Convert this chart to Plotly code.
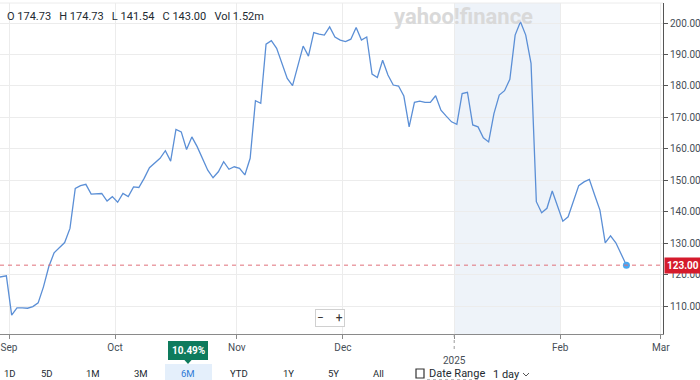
import pandas as pd
import plotly.graph_objects as go

# ---------------- data ----------------
holidays = ["2024-09-02", "2024-11-28", "2024-12-25", "2025-01-01",
            "2025-01-09", "2025-01-20", "2025-02-17"]
dates = [d for d in pd.bdate_range("2024-08-28", "2025-02-20")
         if d.strftime("%Y-%m-%d") not in holidays]

close = [
    119.0, 119.3, 119.6,
    107.1, 109.4, 109.4, 109.3, 109.8, 111.0, 116.1, 122.5, 126.9, 128.6,
    130.2, 134.7, 147.4, 148.3, 148.7, 145.6, 145.7, 145.8, 143.4, 144.8,
    143.0, 145.8, 144.8, 147.9, 147.7, 150.6, 154.0, 155.4, 157.0, 159.4,
    156.1, 166.2, 165.4, 159.8, 163.8, 160.7, 157.0, 153.2, 150.8, 152.7,
    155.9, 153.5, 154.3, 153.8, 151.7, 157.0, 175.3, 174.5, 193.3, 194.4,
    192.0, 187.2, 182.4, 180.1, 186.1, 192.7, 189.5, 197.0, 196.5, 196.2,
    198.8, 195.6, 194.6, 194.1, 194.9, 198.6, 194.6, 195.6, 183.8, 182.7,
    188.2, 183.5, 180.3, 180.0, 176.8, 167.0, 174.8, 175.2, 174.8, 174.8,
    176.9, 172.3, 170.4, 168.6, 167.8, 177.6, 178.0, 167.6, 167.0, 163.5,
    162.2, 171.2, 177.1, 178.5, 182.1, 196.2, 200.4, 196.2, 187.2, 143.2,
    139.7, 141.1, 146.6, 141.8, 137.0, 138.4, 143.2, 148.3, 149.5, 150.3,
    145.3, 140.5, 130.1, 132.3, 130.1, 126.7, 123.0,
]
current_price = 123.00
month_labels = ["Sep", "Oct", "Nov", "Dec", "<br>2025", "Feb", "Mar"]
month_starts = ["2024-09", "2024-10", "2024-11", "2024-12", "2025-01", "2025-02", "2025-03"]
y_ticks = [110, 120, 130, 140, 150, 160, 170, 180, 190, 200]
header = "O 174.73   H 174.73   L 141.54   C 143.00   Vol 1.52m"
range_buttons = ["1D", "5D", "1M", "3M", "6M", "YTD", "1Y", "5Y", "All"]
change_pct = "10.49%"

# ---------------- positions ----------------
x = list(range(len(dates)))
ym = [d.strftime("%Y-%m") for d in dates]


def month_tick(m):
    if m in ym:
        return ym.index(m) - 0.5
    extra = pd.bdate_range(dates[-1] + pd.Timedelta(days=1), m + "-28")
    n = [d.strftime("%Y-%m") for d in extra].index(m)
    return len(dates) - 1 + n + 1 - 0.5


tick_pos = [month_tick(m) for m in month_starts]
i0 = ym.index("2024-09")
xr = [i0 - 2.2, i0 + 122.9]
yr = [101.1, 206.4]

W, H = 700, 380
L, R, T, B = 0, 37, 3, 46
PW, PH = W - L - R, H - T - B


def fx(px):
    return (px - L) / PW


def fy(py):
    return (H - B - py) / PH


def xd(v):
    return (v - xr[0]) / (xr[1] - xr[0])


fig = go.Figure()
fig.add_trace(go.Scatter(x=x, y=close, mode="lines",
                         line=dict(color="#5b8fd6", width=1.3),
                         hoverinfo="skip", showlegend=False))
fig.add_trace(go.Scatter(x=[x[-1]], y=[close[-1]], mode="markers",
                         marker=dict(color="#4aa8f0", size=7),
                         hoverinfo="skip", showlegend=False))

shapes = [
    dict(type="rect", xref="x", yref="paper", x0=tick_pos[4], x1=tick_pos[5],
         y0=0, y1=1, fillcolor="#eef3f9", line=dict(width=0), layer="below"),
    dict(type="line", xref="paper", yref="y", x0=0, x1=1, y0=current_price,
         y1=current_price, line=dict(color="#e0707a", width=1, dash="4px,4px")),
    dict(type="line", xref="paper", yref="paper", x0=0, x1=1, y0=1, y1=1,
         line=dict(color="#ececec", width=1)),
    dict(type="line", xref="paper", yref="paper", x0=xd(tick_pos[4]), x1=xd(tick_pos[4]),
         y0=0, y1=fy(351), line=dict(color="#9a9a9a", width=1, dash="dot")),
    dict(type="rect", xref="paper", yref="paper", x0=fx(165), x1=fx(212),
         y0=fy(364), y1=fy(381), fillcolor="#e4effb", line=dict(width=0)),
    dict(type="rect", xref="paper", yref="paper", x0=fx(168), x1=fx(208),
         y0=fy(341), y1=fy(360), fillcolor="#0e7b5d", line=dict(width=0)),
    dict(type="path", xref="paper", yref="paper",
         path=f"M {fx(184)} {fy(359.5)} L {fx(192)} {fy(359.5)} L {fx(188)} {fy(364)} Z",
         fillcolor="#0e7b5d", line=dict(width=0)),
    dict(type="rect", xref="paper", yref="paper", x0=fx(416), x1=fx(424),
         y0=fy(369), y1=fy(378), line=dict(color="#333", width=1.2)),
    dict(type="line", xref="paper", yref="paper", x0=fx(427), x1=fx(481),
         y0=fy(380), y1=fy(380), line=dict(color="#777", width=1, dash="dot")),
    dict(type="path", xref="paper", yref="paper",
         path=f"M {fx(523)} {fy(373)} L {fx(526)} {fy(376)} L {fx(529)} {fy(373)}",
         line=dict(color="#555", width=1)),
]

annotations = [
    dict(text=header, x=fx(5), y=fy(17), xanchor="left", yanchor="middle",
         font=dict(size=11, color="#232a31")),
    dict(text="yahoo!finance", x=fx(463), y=fy(17), xanchor="center", yanchor="middle",
         font=dict(size=22, color="#d9d9d9", family="Roboto", weight="bold")),
    dict(text="−    +", x=fx(330), y=fy(318), xanchor="center", yanchor="middle",
         font=dict(size=12, color="#333"), bgcolor="white", bordercolor="#d0d0d0",
         borderwidth=1, borderpad=1),
    dict(text=f"{current_price:.2f}", xref="paper", yref="y", x=1, y=current_price,
         xanchor="left", yanchor="middle", xshift=1,
         font=dict(size=10, color="white", weight="bold"), bgcolor="#d51b2c", borderpad=2),
    dict(text=f"<b>{change_pct}</b>", x=fx(188), y=fy(350.5), xanchor="center",
         yanchor="middle", font=dict(size=10, color="white")),
    dict(text="Date Range", x=fx(427), y=fy(373), xanchor="left", yanchor="middle",
         font=dict(size=11, color="#232a31")),
    dict(text="1 day", x=fx(491), y=fy(374), xanchor="left", yanchor="middle",
         font=dict(size=11, color="#232a31")),
]
btn_x = [10, 47, 93, 141, 188, 239, 288, 333, 378]
for lab, bx in zip(range_buttons, btn_x):
    annotations.append(dict(text=lab, x=fx(bx), y=fy(373), xanchor="center",
                            yanchor="middle",
                            font=dict(size=9.5, color="#2f7ad6" if lab == "6M" else "#232a31")))
for a in annotations:
    a.setdefault("xref", "paper")
    a.setdefault("yref", "paper")
    a.setdefault("showarrow", False)

fig.update_layout(
    width=W, height=H, margin=dict(l=L, r=R, t=T, b=B),
    paper_bgcolor="white", plot_bgcolor="white",
    font=dict(family="Roboto", color="#464e56"),
    shapes=shapes, annotations=annotations,
    xaxis=dict(range=xr, tickmode="array", tickvals=tick_pos, ticktext=month_labels,
               showgrid=True, gridcolor="#ececec", zeroline=False,
               showline=True, linecolor="#8a8a8a", linewidth=1,
               ticks="outside", ticklen=4, tickcolor="#8a8a8a",
               tickfont=dict(size=10, color="#464e56")),
    yaxis=dict(range=yr, side="right", tickmode="array", tickvals=y_ticks,
               ticktext=[f"{v:.2f}" for v in y_ticks],
               showgrid=True, gridcolor="#ececec", zeroline=False,
               showline=True, linecolor="#555", linewidth=1,
               ticks="outside", ticklen=4, tickcolor="#555",
               tickfont=dict(size=10, color="#464e56")),
)

fig.write_html("out.html", config=dict(displayModeBar=False),
               post_script="document.body.style.margin='0';document.body.style.overflow='hidden';")
